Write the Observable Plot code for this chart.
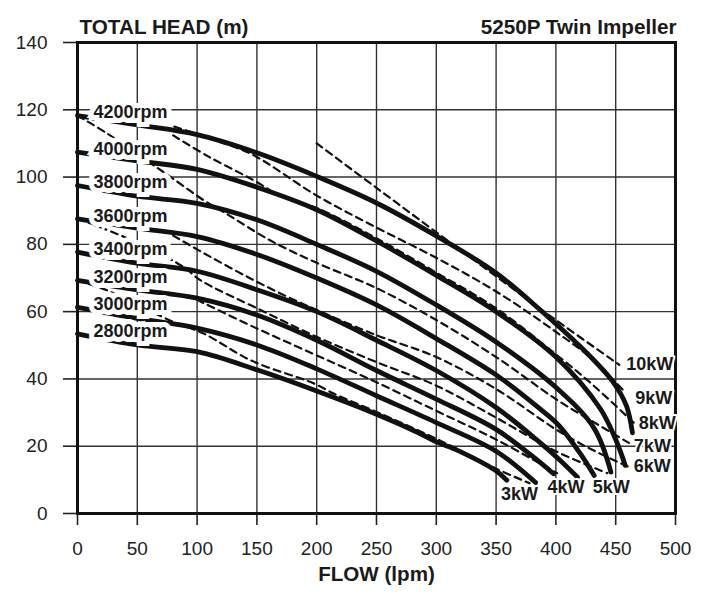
<!DOCTYPE html>
<html>
<head>
<meta charset="utf-8">
<script src="https://cdn.jsdelivr.net/npm/d3@7"></script>
<script src="https://cdn.jsdelivr.net/npm/@observablehq/plot@0.6"></script>
<style>
  html, body { margin: 0; padding: 0; background: #fff; }
  #chart { width: 703px; height: 594px; }
</style>
</head>
<body>
<div id="chart"></div>
<script>
// ---- tick labels ----
const xTicks = [0, 50, 100, 150, 200, 250, 300, 350, 400, 450, 500];
const yTicks = [0, 20, 40, 60, 80, 100, 120, 140];

// ---- speed curves (flow lpm, head m) ----
const rpmNames = ["4200rpm", "4000rpm", "3800rpm", "3600rpm", "3400rpm", "3200rpm", "3000rpm", "2800rpm"];
const q4200 = [0, 50, 100, 150, 200, 250, 300, 350, 390, 425, 448, 459, 464];
const h4200 = [118.3, 115.5, 112.6, 107.2, 100.2, 92.3, 82.5, 71.5, 59.5, 48, 39, 32, 24];
const q4000 = [0, 50, 100, 150, 200, 250, 300, 350, 400, 437, 450, 458];
const h4000 = [107.4, 104.8, 102.3, 97, 90.3, 81, 70.8, 60, 46.5, 31.2, 22, 14.3];
const q3800 = [0, 50, 100, 150, 200, 250, 300, 350, 400, 432, 446];
const h3800 = [97.5, 94.3, 92.2, 87.3, 80, 72, 62, 51, 37.5, 25.3, 12.3];
const q3600 = [0, 50, 100, 150, 200, 250, 300, 350, 386, 403, 420, 432];
const h3600 = [87.6, 84.8, 82.3, 77, 70, 62, 52, 41.2, 31.3, 26, 18, 11.3];
const q3400 = [0, 50, 100, 150, 200, 250, 300, 350, 386, 403, 418];
const h3400 = [77.7, 74.4, 72, 66.5, 60, 51.5, 42.5, 31.5, 21.3, 16, 10.8];
const q3200 = [0, 50, 100, 150, 200, 250, 300, 350, 386, 398];
const h3200 = [69.3, 66.5, 64, 59, 51.5, 42.5, 34, 25, 15.4, 11.8];
const q3000 = [0, 50, 100, 150, 200, 250, 300, 350, 383];
const h3000 = [61.3, 58, 55.1, 50.1, 43, 35, 27, 18.5, 9.2];
const q2800 = [0, 50, 100, 150, 200, 250, 285, 300, 320, 349, 359];
const h2800 = [53.4, 50.1, 48.1, 42.7, 36.4, 29.5, 24, 21.3, 18.4, 12.9, 9.9];

// ---- power lines (flow lpm, head m) ----
const kwNames = ["10kW", "9kW", "8kW", "7kW", "6kW", "5kW", "4kW", "3kW"];
const q10 = [200, 250, 300, 350, 400, 453];
const h10 = [110, 96.8, 83.6, 70.5, 57.5, 44.2];
const q9 = [81, 110, 145, 200, 250, 300, 350, 400, 430, 458];
const h9 = [115, 111.5, 106.9, 94.5, 85, 76, 66, 54, 46, 36];
const q8 = [80, 110, 145, 172, 200, 250, 300, 350, 400, 430, 465];
const h8 = [112.4, 106, 99.5, 94, 90.8, 81.8, 71.6, 61, 47.3, 38.5, 27];
const q7 = [0, 25, 64, 78, 106, 125, 161, 200, 250, 300, 350, 400, 430, 461];
const h7 = [118.3, 112.9, 103.4, 100, 93, 89, 81.2, 74.5, 67, 57.5, 46.5, 34, 27.5, 21];
const q6 = [80, 110, 145, 175, 200, 250, 300, 350, 400, 430, 460];
const h6 = [82.6, 76.5, 69.8, 64.5, 60.5, 53, 46.5, 37, 25, 19, 14];
const q5 = [0, 19, 58, 89, 103, 153, 200, 250, 300, 350, 400, 443];
const h5 = [87.6, 85.1, 79.2, 73.2, 69.3, 60.5, 52.5, 45, 38, 28.5, 18.5, 12];
const q4 = [100, 150, 200, 250, 300, 350, 401];
const h4 = [63.5, 55, 47, 39, 30.5, 22, 12];
const q3 = [0, 25, 50, 80, 106, 145, 198, 215, 250, 300, 349, 378];
const h3 = [69.3, 66.3, 62, 57, 53.4, 45.5, 38.6, 35.5, 30.2, 22.2, 13.5, 9];

const rpmQ = [q4200, q4000, q3800, q3600, q3400, q3200, q3000, q2800];
const rpmH = [h4200, h4000, h3800, h3600, h3400, h3200, h3000, h2800];
const kwQ = [q10, q9, q8, q7, q6, q5, q4, q3];
const kwH = [h10, h9, h8, h7, h6, h5, h4, h3];

// label offsets (pixels) from the end of each power line
const kwDx = [7, 10, 5, 5, 6, 4, 9, -10];
const kwDy = [-1, 6, 1, 3, 0, 14, 14, 11];

const rpmRows = rpmNames.flatMap((name, i) => rpmQ[i].map((q, j) => ({name, q, h: rpmH[i][j]})));
const kwRows = kwNames.flatMap((name, i) => kwQ[i].map((q, j) => ({name, q, h: kwH[i][j]})));
const rpmLabelRows = rpmNames.map((name, i) => ({name, q: rpmQ[i][0], h: rpmH[i][0]}));
const kwEnds = kwNames.map((name, i) => ({name, i, q: kwQ[i][kwQ[i].length - 1], h: kwH[i][kwH[i].length - 1]}));

const font = "'Liberation Sans', Arial, Helvetica, sans-serif";
const kwLabel = (d) => Plot.text([d], {
  x: "q", y: "h", text: "name",
  textAnchor: d.i < 5 ? "start" : "middle",
  dx: kwDx[d.i], dy: kwDy[d.i],
  fontSize: 18, fontWeight: "bold", fill: "#1a1a1a", stroke: "#fff", strokeWidth: 4
});

const chart = Plot.plot({
  width: 703,
  height: 594,
  marginTop: 42,
  marginLeft: 77,
  marginRight: 28,
  marginBottom: 81,
  style: {fontFamily: font, background: "#fff", color: "#222"},
  x: {domain: [0, 500]},
  y: {domain: [0, 140]},
  marks: [
    Plot.gridX(xTicks, {stroke: "#333", strokeOpacity: 1, strokeWidth: 1.4}),
    Plot.gridY(yTicks, {stroke: "#333", strokeOpacity: 1, strokeWidth: 1.4}),
    Plot.axisX(xTicks, {tickSize: 12, tickPadding: 16, fontSize: 19, label: null, stroke: "#222", strokeWidth: 1.6}),
    Plot.axisY(yTicks, {tickSize: 14, tickPadding: 16, fontSize: 19, label: null, stroke: "#222", strokeWidth: 1.6}),
    Plot.frame({stroke: "#111", strokeWidth: 3}),
    Plot.line(kwRows, {x: "q", y: "h", z: "name", stroke: "#111", strokeWidth: 2.2, strokeDasharray: "7,5", curve: "catmull-rom"}),
    Plot.line(rpmRows, {x: "q", y: "h", z: "name", stroke: "#111", strokeWidth: 4.8, curve: "catmull-rom"}),
    Plot.text(rpmLabelRows, {x: "q", y: "h", text: "name", textAnchor: "start", dx: 16, dy: -3, fontSize: 18, fontWeight: "bold", fill: "#1a1a1a", stroke: "#fff", strokeWidth: 10, strokeLinejoin: "miter"}),
    ...kwEnds.map(kwLabel),
    Plot.text(["TOTAL HEAD (m)"], {frameAnchor: "top-left", text: d => d, textAnchor: "start", dx: 2, dy: -23, fontSize: 20.7, fontWeight: "bold", fill: "#1a1a1a"}),
    Plot.text(["5250P Twin Impeller"], {frameAnchor: "top-right", text: d => d, textAnchor: "end", dx: 1, dy: -23, fontSize: 20.7, fontWeight: "bold", fill: "#1a1a1a"}),
    Plot.text(["FLOW (lpm)"], {frameAnchor: "bottom", text: d => d, dy: 67, fontSize: 20.6, fontWeight: "bold", fill: "#1a1a1a"})
  ]
});
document.getElementById("chart").appendChild(chart);
</script>
</body>
</html>
